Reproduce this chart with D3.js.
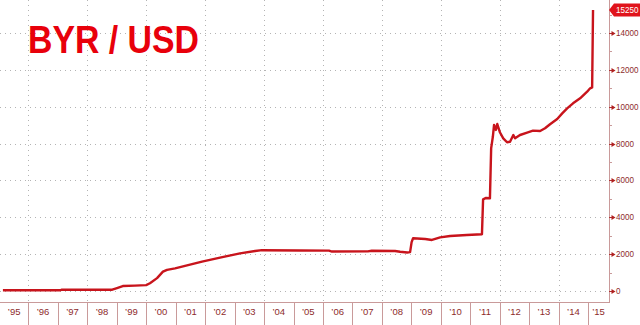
<!DOCTYPE html>
<html>
<head>
<meta charset="utf-8">
<script src="https://cdn.jsdelivr.net/npm/d3@7"></script>
<style>
    html, body { margin: 0; padding: 0; background: #fff; }
    svg { display: block; }
</style>
</head>
<body>
<div id="chart"></div>
<script>
'use strict';

// BYR per USD
var dates = [
    '1995-02-20', '1996-02-02', '1997-02-01', '1997-02-15', '1998-11-06', '1998-11-17',
    '1999-01-04', '1999-03-17', '1999-08-14', '2000-01-01', '2000-02-17', '2000-05-15',
    '2000-07-27', '2000-09-16', '2000-12-24', '2001-04-27', '2001-11-24', '2002-07-05',
    '2003-03-10', '2003-09-13', '2003-12-06', '2005-03-20', '2006-03-17', '2006-04-22',
    '2007-07-12', '2007-08-28', '2008-06-13', '2008-08-14', '2008-11-10', '2008-12-16',
    '2009-01-04', '2009-01-22', '2009-06-21', '2009-09-13', '2009-12-24', '2010-04-26',
    '2010-11-20', '2011-05-26', '2011-06-09', '2011-07-16', '2011-09-02', '2011-09-17',
    '2011-10-08', '2011-10-23', '2011-11-14', '2011-12-02', '2012-01-05', '2012-02-14',
    '2012-04-01', '2012-05-08', '2012-06-18', '2012-07-09', '2012-09-09', '2012-12-06',
    '2013-02-17', '2013-05-16', '2013-07-16', '2013-09-16', '2013-12-14', '2014-02-14',
    '2014-04-16', '2014-06-28', '2014-09-24', '2014-12-20', '2015-01-26', '2015-02-20',
    '2015-03-03'
];
var rates = [
    38, 38, 40, 70, 70, 90,
    160, 270, 290, 320, 420, 700,
    1050, 1150, 1230, 1360, 1590, 1810,
    2045, 2170, 2215, 2200, 2190, 2140,
    2150, 2185, 2170, 2130, 2090, 2110,
    2650, 2860, 2820, 2770, 2910, 2985,
    3040, 3080, 4970, 5050, 5030, 7740,
    8370, 9010, 8740, 9060, 8600, 8285,
    8070, 8100, 8465, 8285, 8465, 8590,
    8700, 8680, 8830, 9050, 9330, 9640,
    9910, 10185, 10455, 10815, 11000, 11050,
    15250
];

var yTicks = [0, 2000, 4000, 6000, 8000, 10000, 12000, 14000];
var yMinorTicks = [1000, 3000, 5000, 7000, 9000, 11000, 13000, 15000];
var xYears = d3.range(1995, 2016);
var title = 'BYR / USD';
var lastLabel = '15250';

var width = 640, height = 325;
var plotRight = 609, plotBottom = 302;
var smallFont = '"Liberation Sans", Arial, sans-serif';

var parse = d3.timeParse('%Y-%m-%d');
var series = dates.map(function (d, i) { return {date: parse(d), value: rates[i]}; });

var x = d3.scaleTime()
    .domain([parse('1995-01-15'), parse('2015-09-17')])
    .range([0, plotRight]);

var y = d3.scaleLinear()
    .domain([0, 14000])
    .range([291, 33]);

var svg = d3.select('#chart').append('svg')
    .attr('width', width)
    .attr('height', height);

var grid = svg.append('g').attr('class', 'grid')
    .attr('stroke', '#b4b4b4')
    .attr('stroke-width', 1)
    .attr('stroke-dasharray', '1,4');

// dotted horizontals, one every 2000
grid.selectAll('.hgrid')
    .data(yTicks.concat([16000]))
    .enter().append('line')
        .attr('x1', 0)
        .attr('x2', plotRight)
        .attr('y1', function (d) { return Math.round(y(d)) + 0.5; })
        .attr('y2', function (d) { return Math.round(y(d)) + 0.5; });

// dotted verticals on the even years
grid.selectAll('.vgrid')
    .data(xYears.filter(function (d) { return d % 2 === 0; }))
    .enter().append('line')
        .attr('x1', function (d) { return Math.round(x(new Date(d, 0, 1))) + 0.5; })
        .attr('x2', function (d) { return Math.round(x(new Date(d, 0, 1))) + 0.5; })
        .attr('y1', 0)
        .attr('y2', plotBottom);

var axisColor = '#c99a9a';
var labelColor = '#8e2b2b';

// frame: right and bottom edges
svg.append('line')
    .attr('x1', plotRight + 0.5).attr('x2', plotRight + 0.5)
    .attr('y1', 0).attr('y2', plotBottom)
    .attr('stroke', axisColor);
svg.append('line')
    .attr('x1', 0).attr('x2', plotRight + 1)
    .attr('y1', plotBottom + 0.5).attr('y2', plotBottom + 0.5)
    .attr('stroke', axisColor);

// x axis: year separators, labels sit in the middle of each year
var xAxis = svg.append('g').attr('class', 'x-axis');

xAxis.selectAll('.sep')
    .data(xYears.slice(1))
    .enter().append('line')
        .attr('x1', function (d) { return Math.round(x(new Date(d, 0, 1))) + 0.5; })
        .attr('x2', function (d) { return Math.round(x(new Date(d, 0, 1))) + 0.5; })
        .attr('y1', plotBottom)
        .attr('y2', height)
        .attr('stroke', axisColor);

xAxis.selectAll('.yr')
    .data(xYears)
    .enter().append('text')
        .attr('x', function (d) {
            var a = Math.max(0, x(new Date(d, 0, 1)));
            var b = Math.min(plotRight, x(new Date(d + 1, 0, 1)));
            return (a + b) / 2;
        })
        .attr('y', 315)
        .attr('text-anchor', 'middle')
        .attr('font-family', smallFont)
        .attr('font-size', '9.5px')
        .attr('fill', labelColor)
        .text(function (d) { return '\u2019' + String(d).slice(2); });

// y axis on the right with small arrow markers
var yAxis = svg.append('g').attr('class', 'y-axis');

yAxis.selectAll('.minor')
    .data(yMinorTicks)
    .enter().append('line')
        .attr('x1', plotRight)
        .attr('x2', plotRight + 3)
        .attr('y1', function (d) { return Math.round(y(d)) + 0.5; })
        .attr('y2', function (d) { return Math.round(y(d)) + 0.5; })
        .attr('stroke', axisColor);

var major = yAxis.selectAll('.major')
    .data(yTicks)
    .enter().append('g')
        .attr('transform', function (d) { return 'translate(' + plotRight + ',' + (Math.round(y(d)) + 0.5) + ')'; });

major.append('line')
    .attr('x1', 0).attr('x2', 4)
    .attr('stroke', '#b03030');
major.append('path')
    .attr('d', 'M2.5,-2.5L6.5,0L2.5,2.5Z')
    .attr('fill', '#b02020');
major.append('text')
    .attr('x', 7)
    .attr('dy', '0.35em')
    .attr('font-family', smallFont)
    .attr('font-size', '8.5px')
    .attr('fill', labelColor)
    // the labels are squeezed in the original, 5 digits in ~23px
    .attr('textLength', function (d) { return String(d).length * 4.5; })
    .attr('lengthAdjust', 'spacingAndGlyphs')
    .text(function (d) { return d; });

// the series itself
var line = d3.line()
    .x(function (d) { return x(d.date); })
    .y(function (d) { return y(d.value); })
    .curve(d3.curveLinear);

svg.append('path')
    .datum(series)
    .attr('fill', 'none')
    .attr('stroke', '#c8141c')
    .attr('stroke-width', 2.4)
    .attr('stroke-linejoin', 'round')
    .attr('d', line);

// last value tag
var last = series[series.length - 1];
var tagY = y(last.value);
var tag = svg.append('g')
    .attr('transform', 'translate(' + plotRight + ',' + tagY + ')');
tag.append('path')
    .attr('d', 'M0,0L5,-6.5L31,-6.5L31,6.5L5,6.5Z')
    .attr('fill', '#e0141c');
tag.append('text')
    .attr('x', 7)
    .attr('dy', '0.35em')
    .attr('font-family', smallFont)
    .attr('font-size', '8.5px')
    .attr('fill', '#fff')
    .attr('textLength', lastLabel.length * 4.5)
    .attr('lengthAdjust', 'spacingAndGlyphs')
    .text(lastLabel);

// big title
svg.append('text')
    .attr('x', 28)
    .attr('y', 53)
    .attr('font-family', '"Liberation Sans", Arial, sans-serif')
    .attr('font-weight', 'bold')
    .attr('font-size', '39px')
    .attr('fill', '#e8000b')
    .attr('textLength', 171)
    .attr('lengthAdjust', 'spacingAndGlyphs')
    .text(title);
</script>
</body>
</html>
